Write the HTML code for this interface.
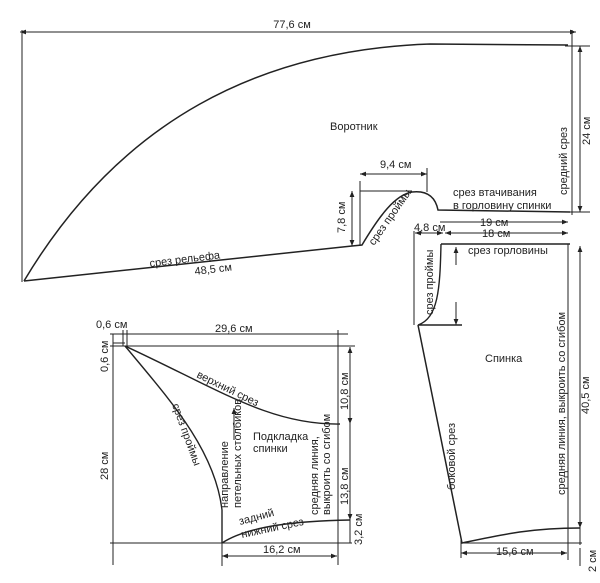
<!DOCTYPE html>
<html><head><meta charset="utf-8"><style>
body{margin:0;background:#fff;width:600px;height:583px;overflow:hidden}
svg{display:block}
text{font-family:"Liberation Sans",sans-serif;font-size:11px;fill:#222}
</style></head><body>
<svg width="600" height="583" viewBox="0 0 600 583" xmlns="http://www.w3.org/2000/svg">
<defs>
<marker id="a" viewBox="0 0 10 10" refX="10" refY="5" markerWidth="7" markerHeight="6" orient="auto-start-reverse"><path d="M0,1 L10,5 L0,9 z" fill="#222"/></marker>
</defs>
<g stroke="#222" fill="none" stroke-width="1">
<line x1="20" y1="32" x2="576" y2="32" marker-start="url(#a)" marker-end="url(#a)"/>
<line x1="22" y1="30" x2="22" y2="282"/>
<line x1="572" y1="30" x2="572" y2="215"/>
<path d="M24,281 C120,120 260,50 430,44 L568,45" stroke-width="1.5"/>
<path d="M24,281 L352,246 L362,245 C380,215 395,195 412,192 C430,190 436,200 438,210 L570,212" stroke-width="1.5"/>
<line x1="360" y1="191" x2="412" y2="191"/>
<line x1="360" y1="181" x2="360" y2="246"/>
<line x1="352" y1="191" x2="352" y2="246" marker-start="url(#a)" marker-end="url(#a)"/>
<line x1="360" y1="174" x2="427" y2="174" marker-start="url(#a)" marker-end="url(#a)"/>
<line x1="427" y1="168" x2="427" y2="192"/>
<line x1="580" y1="46" x2="580" y2="212" marker-start="url(#a)" marker-end="url(#a)"/>
<line x1="565" y1="46" x2="590" y2="46"/>
<line x1="565" y1="212" x2="590" y2="212"/>
<line x1="440" y1="222" x2="568" y2="222" marker-end="url(#a)"/>
<line x1="445" y1="233" x2="568" y2="233" marker-start="url(#a)" marker-end="url(#a)"/>
<line x1="415" y1="233" x2="443" y2="233" marker-start="url(#a)" marker-end="url(#a)"/>
<path d="M441,244 L570,244" stroke-width="1.5"/>
<path d="M441,244 C440,290 438,318 418,325 L462,325" stroke-width="1.4"/>
<line x1="414" y1="231" x2="414" y2="325"/>
<path d="M418,325 L462,543 C500,535 530,528 580,528" stroke-width="1.5"/>
<line x1="568" y1="244" x2="568" y2="560"/>
<line x1="462" y1="543" x2="582" y2="543"/>
<line x1="580" y1="246" x2="580" y2="528" marker-start="url(#a)" marker-end="url(#a)"/>
<line x1="580" y1="528" x2="580" y2="545"/>
<line x1="580" y1="548" x2="580" y2="566"/>
<line x1="461" y1="540" x2="461" y2="558"/>
<line x1="461" y1="553" x2="567" y2="553" marker-start="url(#a)" marker-end="url(#a)"/>
<line x1="456" y1="247" x2="456" y2="265" marker-start="url(#a)"/>
<line x1="456" y1="302" x2="456" y2="325" marker-end="url(#a)"/>
<line x1="110" y1="334" x2="348" y2="334"/>
<line x1="110" y1="346" x2="355" y2="346"/>
<line x1="113" y1="334" x2="113" y2="565"/>
<line x1="123" y1="330" x2="123" y2="346"/>
<line x1="127" y1="330" x2="127" y2="346"/>
<line x1="113" y1="343" x2="125" y2="343"/>
<path d="M125,346 C170,400 215,450 222,510 L222,543" stroke-width="1.4"/>
<path d="M125,346 C220,390 270,425 340,424" stroke-width="1.4"/>
<path d="M222,543 C250,525 300,521 350,520" stroke-width="1.4"/>
<line x1="110" y1="543" x2="352" y2="543"/>
<line x1="338" y1="330" x2="338" y2="565"/>
<line x1="222" y1="543" x2="222" y2="566"/>
<line x1="350" y1="347" x2="350" y2="424" marker-start="url(#a)" marker-end="url(#a)"/>
<line x1="350" y1="424" x2="350" y2="520" marker-end="url(#a)"/>
<line x1="350" y1="520" x2="350" y2="543"/>
<line x1="222" y1="556" x2="337" y2="556" marker-start="url(#a)" marker-end="url(#a)"/>
<line x1="234" y1="440" x2="234" y2="408" marker-end="url(#a)"/>
</g>
<text x="292" y="28" text-anchor="middle">77,6 см</text>
<text x="330" y="130">Воротник</text>
<text x="380" y="168">9,4 см</text>
<text x="453" y="196">срез втачивания</text>
<text x="453" y="209">в горловину спинки</text>
<text x="480" y="226">19 см</text>
<text x="482" y="237">18 см</text>
<text x="414" y="231" font-size="10.5">4,8 см</text>
<text x="468" y="254">срез горловины</text>
<text x="485" y="362" font-size="12">Спинка</text>
<text x="150" y="267" transform="rotate(-7 150 267)">срез рельефа</text>
<text x="195" y="275" transform="rotate(-7 195 275)">48,5 см</text>
<text x="345" y="233" transform="rotate(-90 345 233)">7,8 см</text>
<text x="374" y="246" transform="rotate(-55 374 246)">срез проймы</text>
<text x="567" y="195" transform="rotate(-90 567 195)">средний срез</text>
<text x="590" y="145" transform="rotate(-90 590 145)">24 см</text>
<text x="433" y="315" transform="rotate(-90 433 315)">срез проймы</text>
<text x="565" y="495" transform="rotate(-90 565 495)">средняя линия, выкроить со сгибом</text>
<text x="589" y="414" transform="rotate(-90 589 414)">40,5 см</text>
<text x="455" y="490" transform="rotate(-90 455 490)">боковой срез</text>
<text x="496" y="555">15,6 см</text>
<text x="596" y="572" transform="rotate(-90 596 572)">2 см</text>
<text x="96" y="328">0,6 см</text>
<text x="215" y="332">29,6 см</text>
<text x="108" y="372" transform="rotate(-90 108 372)">0,6 см</text>
<text x="108" y="480" transform="rotate(-90 108 480)">28 см</text>
<text x="196" y="377" transform="rotate(26 196 377)">верхний срез</text>
<text x="172" y="405" transform="rotate(70 172 405)">срез проймы</text>
<text x="228" y="508" transform="rotate(-90 228 508)">направление</text>
<text x="241" y="508" transform="rotate(-90 241 508)">петельных столбиков</text>
<text x="253" y="440">Подкладка</text>
<text x="253" y="452">спинки</text>
<text x="318" y="515" transform="rotate(-90 318 515)">средняя линия,</text>
<text x="330" y="515" transform="rotate(-90 330 515)">выкроить со сгибом</text>
<text x="348" y="505" transform="rotate(-90 348 505)">13,8 см</text>
<text x="348" y="410" transform="rotate(-90 348 410)">10,8 см</text>
<text x="362" y="545" transform="rotate(-90 362 545)">3,2 см</text>
<text x="240" y="525" transform="rotate(-15 240 525)">задний</text>
<text x="242" y="538" transform="rotate(-12 242 538)">нижний срез</text>
<text x="263" y="553">16,2 см</text>
</svg>
</body></html>
